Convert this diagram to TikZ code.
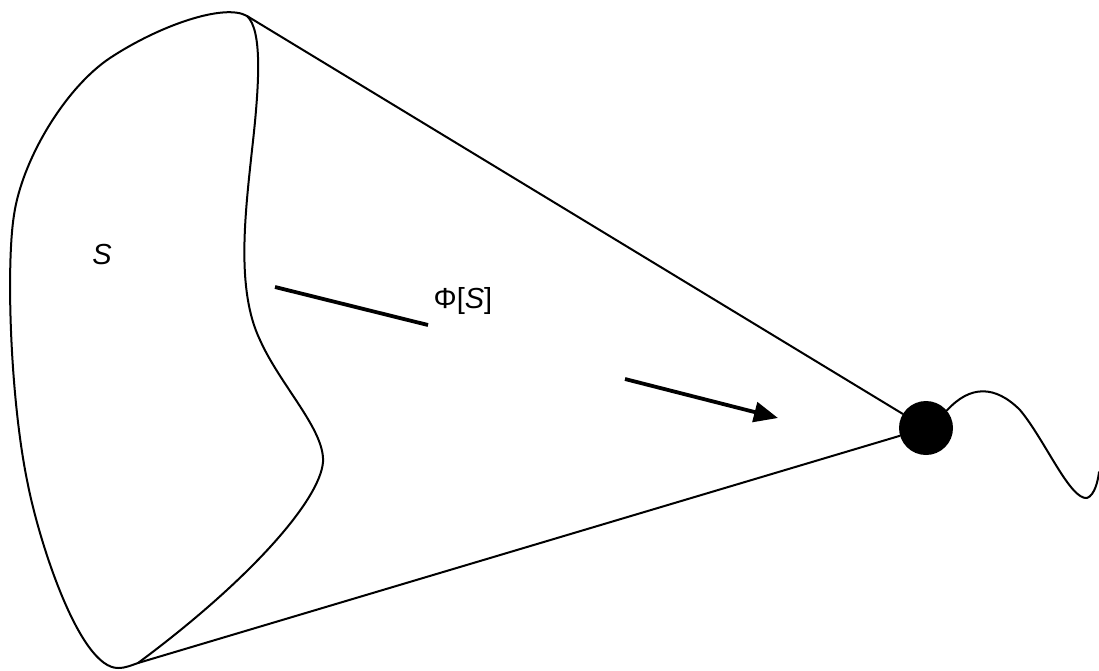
\documentclass[tikz,border=0pt]{standalone}
\usepackage{fontspec}
\setmainfont{Liberation Sans}
\usetikzlibrary{arrows.meta}
\tikzset{
  thin line/.style={line width=2pt, line join=round, line cap=round},
  thick bar/.style={line width=3.8pt},
  label text/.style={font=\fontsize{29}{33}\selectfont, inner sep=0pt},
  vertex dot/.style={circle, fill=black, minimum size=54pt, inner sep=0pt}
}
\begin{document}
\begin{tikzpicture}[x=1pt, y=-1pt]
\useasboundingbox (0,0) rectangle (1099,670);
\coordinate (T) at (247,16);
\coordinate (B) at (138,663);
\node[vertex dot] (P) at (926,428) {};
% outer left boundary of S
\draw[thin line] (T) .. controls (225,3) and (160,25) .. (110,58)
  .. controls (65,88) and (22,160) .. (14,215)
  .. controls (6,265) and (10,400) .. (28,485)
  .. controls (40,545) and (80,668) .. (118,668)
  .. controls (126,668) and (132,665) .. (B);
% inner boundary of S
\draw[thin line] (T) .. controls (262,30) and (260,80) .. (252,150)
  .. controls (245,215) and (236,290) .. (260,340)
  .. controls (280,385) and (325,430) .. (323,462)
  .. controls (320,500) and (250,580) .. (B);
% cone generators
\draw[thin line] (T) -- (P);
\draw[thin line] (B) -- (P);
% tail from the vertex
\draw[thin line] (P.40) .. controls (970,385) and (995,385) .. (1020,410)
  .. controls (1045,440) and (1070,500) .. (1087,498)
  .. controls (1095,495) and (1098,480) .. (1099,472);
% bar and arrow
\coordinate (b1) at (275,287);
\coordinate (b2) at (428,325);
\draw[thick bar] (b1) -- (b2);
\coordinate (a1) at (625,379);
\coordinate (a2) at (778,418);
\draw[thick bar, -{Triangle[length=24pt, width=20pt]}] (a1) -- (a2);
% labels
\node[label text] (S) at (102,255) {\textit{S}};
\node[label text] (phi) at (463,301) {Φ[\textit{S}]};
\end{tikzpicture}
\end{document}
